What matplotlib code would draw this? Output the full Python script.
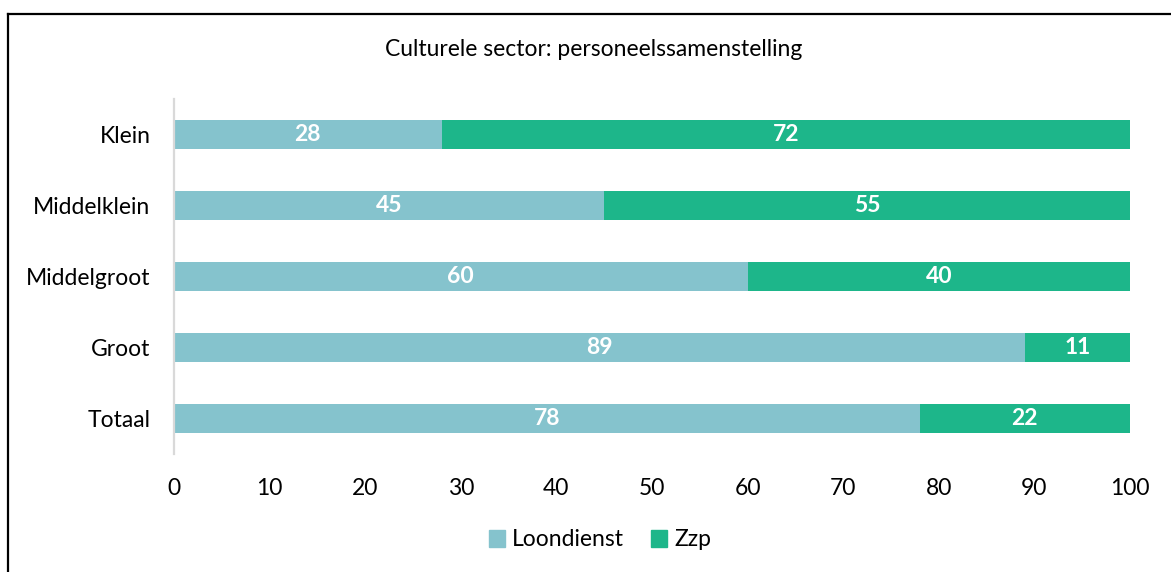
import matplotlib
matplotlib.use("Agg")
import matplotlib.pyplot as plt
from matplotlib.lines import Line2D
from matplotlib.patches import Patch

plt.rcParams["font.family"] = ["Lato", "DejaVu Sans"]

categories = ["Klein", "Middelklein", "Middelgroot", "Groot", "Totaal"]
loondienst = [28, 45, 60, 89, 78]
zzp = [72, 55, 40, 11, 22]
xticks = [0, 10, 20, 30, 40, 50, 60, 70, 80, 90, 100]

C_LOON = "#85C3CD"
C_ZZP = "#1DB68A"

W, H = 1171, 572
fig = plt.figure(figsize=(W / 100, H / 100), dpi=100)
ax = fig.add_axes([174 / W, 1 - 454 / H, 956 / W, 355 / H])

y = list(range(len(categories)))
ax.barh(y, loondienst, height=0.4, color=C_LOON, label="Loondienst")
ax.barh(y, zzp, left=loondienst, height=0.4, color=C_ZZP, label="Zzp")

for yi, a, b in zip(y, loondienst, zzp):
    ax.text(a / 2, yi, str(a), ha="center", va="center", color="white",
            fontsize=16.5, fontweight="bold")
    ax.text(a + b / 2, yi, str(b), ha="center", va="center", color="white",
            fontsize=16.5, fontweight="bold")

ax.set_xlim(0, 100)
ax.set_ylim(len(categories) - 0.5, -0.5)
ax.set_yticks(y)
ax.set_yticklabels(categories, fontsize=16.5)
ax.set_xticks(xticks)
ax.set_xticklabels([str(t) for t in xticks], fontsize=16.5)
ax.tick_params(length=0)
ax.tick_params(axis="y", pad=17)
ax.tick_params(axis="x", pad=17)
for s in ("top", "right", "bottom"):
    ax.spines[s].set_visible(False)
ax.spines["left"].set_color("#d9d9d9")
ax.spines["left"].set_linewidth(1.6)

fig.text(594 / W, 1 - 50 / H, "Culturele sector: personeelssamenstelling",
         ha="center", va="center", fontsize=16.5)

handles = [Patch(color=C_LOON), Patch(color=C_ZZP)]
fig.legend(handles, ["Loondienst", "Zzp"], loc="center",
           bbox_to_anchor=(600 / W, 1 - 540 / H), ncol=2, frameon=False,
           fontsize=16.5, handlelength=0.7, handleheight=0.7,
           handletextpad=0.3, columnspacing=1.2)

# outer frame (cropped at right and bottom)
fig.add_artist(Line2D([8 / W, 1], [1 - 14 / H, 1 - 14 / H], color="black",
                      linewidth=1.6, transform=fig.transFigure))
fig.add_artist(Line2D([8 / W, 8 / W], [1 - 14 / H, 0], color="black",
                      linewidth=1.6, transform=fig.transFigure))

fig.savefig("out.png", dpi=100)
